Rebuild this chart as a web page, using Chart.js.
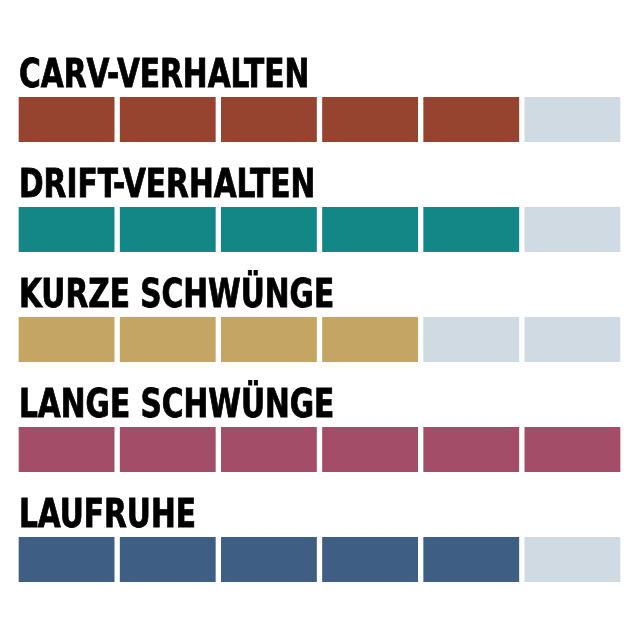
<!DOCTYPE html>
<html>
<head>
<meta charset="utf-8">
<script src="https://cdn.jsdelivr.net/npm/chart.js@4"></script>
<style>
  html, body { margin: 0; padding: 0; background: #ffffff; }
  #wrap { width: 640px; height: 640px; }
</style>
</head>
<body>
<div id="wrap"><canvas id="c" width="640" height="640"></canvas></div>
<script>
const categories = ['CARV-VERHALTEN', 'DRIFT-VERHALTEN', 'KURZE SCHWÜNGE', 'LANGE SCHWÜNGE', 'LAUFRUHE'];
const scores = [5, 5, 4, 6, 5];
const maxScore = 6;
const fillColors = ['#96442f', '#138686', '#c4a564', '#a34d68', '#3e5e84'];
const emptyColor = '#cfdae2';

const datasets = [];
for (let s = 0; s < maxScore; s++) {
  datasets.push({
    label: 'Segment ' + (s + 1),
    data: categories.map(() => 1),
    backgroundColor: categories.map((c, i) => s < scores[i] ? fillColors[i] : emptyColor),
    borderColor: '#ffffff',
    borderWidth: { left: 3, right: 3, top: 0, bottom: 0 },
    borderSkipped: false,
    barThickness: 45
  });
}

const labelPlugin = {
  id: 'rowLabels',
  afterDatasetsDraw(chart) {
    const ctx = chart.ctx;
    const meta = chart.getDatasetMeta(0);
    const squeeze = 0.855;
    ctx.save();
    ctx.fillStyle = '#000000';
    ctx.strokeStyle = '#000000';
    ctx.lineWidth = 0.8;
    ctx.font = 'bold 38.5px "DejaVu Sans Condensed", "DejaVu Sans", sans-serif';
    ctx.textAlign = 'left';
    ctx.textBaseline = 'alphabetic';
    meta.data.forEach((bar, i) => {
      const top = bar.y - bar.height / 2;
      const x = chart.chartArea.left + 3;
      ctx.save();
      ctx.translate(x, top - 10);
      ctx.scale(squeeze, 1);
      ctx.fillText(categories[i], 0, 0);
      ctx.strokeText(categories[i], 0, 0);
      ctx.restore();
    });
    ctx.restore();
  }
};

new Chart(document.getElementById('c'), {
  type: 'bar',
  data: { labels: categories, datasets },
  options: {
    indexAxis: 'y',
    responsive: false,
    animation: false,
    layout: { padding: { left: 16, right: 17, top: 64.5, bottom: 25.5 } },
    plugins: { legend: { display: false }, tooltip: { enabled: false } },
    scales: {
      x: { stacked: true, min: 0, max: maxScore, display: false },
      y: { stacked: true, display: false }
    }
  },
  plugins: [labelPlugin]
});
</script>
</body>
</html>
